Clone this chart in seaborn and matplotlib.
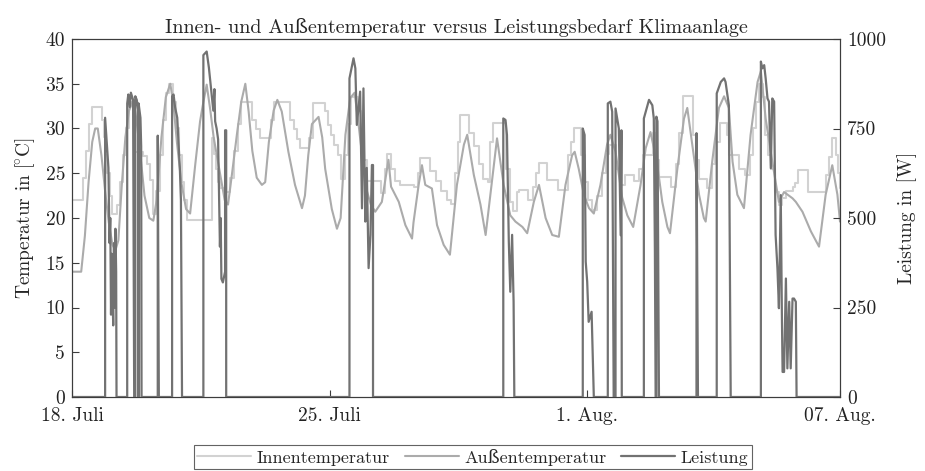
import numpy as np
import pandas as pd
import matplotlib
matplotlib.use('Agg')
import matplotlib.pyplot as plt
import seaborn as sns

# ---------------- data (days since 18. Juli 00:00) ----------------
x_tick_days = [0, 7, 14, 20.87]
x_tick_labels = ['18. Juli', '25. Juli', '1. Aug.', '07. Aug.']
temp_ticks = [0, 5, 10, 15, 20, 25, 30, 35, 40]
power_ticks = [0, 250, 500, 750, 1000]

innen_days = [0.00, 0.30, 0.38, 0.46, 0.54, 0.82, 0.86, 0.91, 0.96, 1.03, 1.10, 1.22, 1.30, 1.38, 1.46, 1.54,
              1.70, 1.94, 2.04, 2.12, 2.20, 2.28, 2.38, 2.48, 2.56, 2.63, 2.74, 2.82, 2.90, 2.98, 3.05, 3.12,
              3.80, 3.85, 3.90, 3.96, 4.03, 4.18, 4.30, 4.40, 4.50, 4.58, 4.90, 5.00, 5.10, 5.40, 5.50, 5.93,
              6.02, 6.11, 6.20, 6.45, 6.55, 6.88, 6.96, 7.04, 7.13, 7.22, 7.32, 7.42, 7.50, 7.58, 7.76, 7.84,
              7.94, 8.03, 8.40, 8.50, 8.56, 8.66, 8.78, 8.92, 9.30, 9.40, 9.47, 9.74, 9.90, 10.04, 10.18, 10.30,
              10.40, 10.48, 10.55, 10.80, 10.93, 11.06, 11.18, 11.30, 11.37, 11.45, 11.80, 11.90, 11.98, 12.08,
              12.14, 12.38, 12.52, 12.62, 12.70, 12.90, 13.20, 13.48, 13.57, 13.64, 13.84, 13.93, 14.02, 14.12,
              14.28, 14.40, 14.52, 14.60, 14.78, 14.90, 15.02, 15.28, 15.42, 15.52, 15.78, 15.88, 15.95, 16.28,
              16.40, 16.50, 16.60, 16.87, 16.96, 17.04, 17.26, 17.38, 17.48, 17.60, 17.80, 17.86, 18.12, 18.30,
              18.42, 18.50, 18.58, 18.66, 18.78, 18.84, 18.92, 18.99, 19.10, 19.20, 19.30, 19.40, 19.58, 19.66,
              19.72, 20.00, 20.50, 20.58, 20.64, 20.76, 20.82, 20.87]
innen_temp = [22.0, 24.5, 27.5, 30.5, 32.4, 31.0, 29.0, 27.0, 25.0, 22.5, 20.5, 21.5, 24.0, 27.0, 30.0, 33.0,
              27.4, 26.9, 26.0, 24.2, 20.5, 23.0, 27.0, 31.0, 34.0, 35.0, 33.0, 30.0, 27.0, 24.0, 22.0, 19.8,
              28.9, 27.2, 25.5, 24.0, 23.3, 22.9, 24.5, 27.5, 30.5, 33.0, 31.0, 29.9, 28.9, 31.0, 33.0, 31.0,
              29.9, 28.8, 27.8, 28.9, 32.8, 31.9, 30.4, 29.3, 28.2, 27.0, 24.4, 27.0, 30.5, 33.5, 32.0, 29.5,
              26.5, 24.1, 22.8, 25.5, 27.2, 25.5, 24.1, 23.7, 23.5, 25.0, 26.7, 25.2, 24.1, 23.0, 22.0, 21.6,
              25.0, 28.5, 31.5, 29.5, 28.0, 26.0, 24.4, 24.0, 28.5, 30.6, 25.5, 21.8, 20.8, 22.9,
              23.1, 22.0, 23.5, 25.0, 26.1, 24.2, 23.1, 27.0, 28.5, 30.0, 27.0, 24.0, 22.0, 20.9,
              22.5, 25.0, 27.2, 28.2, 25.5, 23.7, 24.8, 24.1, 25.5, 27.0, 29.5, 26.5, 24.6, 23.5,
              26.0, 29.5, 33.6, 29.3, 26.5, 24.4, 23.3, 26.0, 28.5, 30.6, 29.3, 27.0, 25.5, 24.8,
              27.0, 30.0, 33.0, 35.0, 33.5, 29.3, 27.0, 25.5, 22.9, 21.4, 22.2, 23.0, 23.5, 23.9,
              25.4, 22.9, 24.8, 26.8, 28.9, 27.0, 25.0, 23.3]

aussen_days = [0.00, 0.25, 0.35, 0.45, 0.55, 0.63, 0.70, 0.80, 0.90, 1.00, 1.10, 1.18, 1.26, 1.35, 1.45, 1.55,
               1.67, 1.75, 1.85, 1.97, 2.10, 2.21, 2.30, 2.43, 2.55, 2.67, 2.75, 2.85, 2.97, 3.10, 3.21, 3.35,
               3.48, 3.55, 3.66, 3.76, 3.85, 4.00, 4.15, 4.24, 4.35, 4.48, 4.60, 4.71, 4.80, 4.90, 5.02, 5.16,
               5.25, 5.35, 5.48, 5.58, 5.70, 5.88, 6.06, 6.25, 6.33, 6.42, 6.52, 6.70, 6.80, 6.88, 7.06, 7.20,
               7.30, 7.43, 7.56, 7.68, 7.80, 7.98, 8.12, 8.24, 8.42, 8.60, 8.67, 8.88, 9.06, 9.24, 9.28, 9.42,
               9.51, 9.60, 9.78, 9.92, 10.10, 10.27, 10.46, 10.65, 10.74, 10.92, 11.10, 11.24, 11.42, 11.55,
               11.73, 11.91, 12.05, 12.24, 12.37, 12.55, 12.69, 12.87, 13.05, 13.23, 13.41, 13.59, 13.66, 13.77,
               13.91, 14.05, 14.18, 14.36, 14.54, 14.63, 14.77, 14.95, 15.09, 15.25, 15.45, 15.59, 15.72, 15.90,
               16.04, 16.18, 16.25, 16.45, 16.63, 16.72, 16.90, 17.04, 17.17, 17.22, 17.40, 17.58, 17.72, 17.85,
               17.95, 18.08, 18.26, 18.44, 18.63, 18.72, 18.85, 19.03, 19.21, 19.35, 19.58, 19.67, 19.85, 20.08,
               20.30, 20.48, 20.66, 20.80, 20.87]
aussen_temp = [14.0, 14.0, 18.0, 24.0, 28.5, 30.0, 30.0, 27.0, 23.0, 19.5, 17.0, 16.4, 17.5, 23.5, 29.0, 32.0,
               33.2, 31.0, 27.4, 22.5, 20.0, 19.7, 22.0, 29.0, 33.5, 35.0, 33.0, 28.5, 24.0, 21.0, 20.5, 26.0,
               30.8, 32.5, 34.9, 32.0, 29.0, 25.5, 22.0, 21.5, 25.0, 29.3, 33.0, 35.0, 31.9, 27.5, 24.5, 23.7,
               24.0, 28.5, 32.0, 33.2, 31.9, 27.4, 23.7, 21.1, 22.5, 27.0, 30.5, 31.3, 29.0, 25.5, 21.0, 18.8,
               20.0, 29.3, 33.4, 34.0, 30.0, 23.5, 21.5, 20.7, 21.8, 26.5, 23.5, 21.8, 19.2, 17.7, 19.5, 23.7,
               25.9, 23.7, 23.3, 19.2, 17.0, 15.9, 23.7, 28.2, 29.3, 24.8, 21.5, 18.1, 24.4, 28.9,
               23.7, 20.3, 19.6, 19.0, 18.3, 21.8, 23.7, 20.0, 18.1, 17.9, 23.7, 27.0, 27.4, 25.5,
               22.6, 21.1, 20.5, 23.7, 28.2, 29.3, 27.4, 22.3, 20.3, 19.0, 23.7, 27.8, 29.6, 26.1,
               21.8, 19.0, 18.3, 25.5, 31.1, 32.3, 26.8, 22.6, 20.0, 19.6, 26.4, 32.3, 33.6, 32.3,
               26.3, 22.6, 21.1, 29.3, 35.2, 36.4, 31.1, 26.3, 21.8, 22.9, 22.2, 21.8, 20.7, 18.5,
               16.8, 22.6, 25.9, 22.6, 19.6]

leistung_days = [0.00, 0.90, 0.90, 0.95, 0.99, 1.02, 1.04, 1.06, 1.08, 1.10, 1.12, 1.14, 1.16, 1.18, 1.20, 1.21,
                 1.50, 1.50, 1.53, 1.57, 1.60, 1.63, 1.66, 1.69, 1.72, 1.72, 1.76, 1.80, 1.80, 1.81, 1.81, 1.86,
                 1.88, 1.89, 2.33, 2.33, 2.36, 2.72, 2.72, 2.76, 2.80, 2.86, 2.90, 2.93, 2.96, 2.99,
                 3.57, 3.57, 3.66, 3.72, 3.84, 3.87, 3.89, 3.93, 3.97, 4.00, 4.02, 4.04, 4.06, 4.10, 4.16, 4.16,
                 4.19, 4.19, 7.54, 7.54, 7.65, 7.70, 7.74, 7.83, 7.88, 7.92, 7.97, 8.01, 8.06, 8.11, 8.15, 8.18,
                 8.18, 11.72, 11.72, 11.78, 11.82, 11.87, 11.91, 11.96, 12.00, 12.02, 13.88, 13.88, 13.93, 13.96,
                 14.00, 14.04, 14.12, 14.16, 14.18, 14.56, 14.56, 14.63, 14.68, 14.72, 14.77, 14.77, 14.86, 14.91,
                 14.93, 14.94, 15.54, 15.54, 15.68, 15.77, 15.81, 15.84, 15.86, 15.88, 15.88, 15.91, 15.95, 16.97,
                 16.97, 17.01, 17.52, 17.52, 17.63, 17.72, 17.76, 17.85, 17.90, 18.72, 18.72, 18.76, 18.81, 18.85,
                 18.90, 18.94, 18.99, 19.03, 19.08, 19.12, 19.17, 19.21, 19.26, 19.29, 19.31, 19.35, 19.40, 19.44,
                 19.49, 19.53, 19.58, 19.62, 19.67, 19.69, 20.87]
leistung_w = [0, 0, 780, 700, 640, 430, 500, 230, 400, 300, 200, 430, 250, 470, 350, 0,
              0, 820, 845, 810, 850, 840, 830, 0, 0, 840, 830, 800, 0, 0, 820, 780,
              700, 0, 0, 730, 0, 0, 840, 845, 810, 780, 700, 640, 550, 0,
              0, 955, 965, 920, 800, 860, 770, 750, 720, 550, 420, 500, 330, 320, 350, 745,
              745, 0, 0, 890, 946, 918, 760, 853, 527, 862, 490, 640, 360, 453, 648, 648,
              0, 0, 778, 774, 732, 434, 294, 453, 266, 0, 0, 750, 732, 378,
              322, 210, 238, 80, 0, 0, 820, 825, 797, 0, 0, 806, 750, 452,
              745, 0, 0, 778, 830, 815, 778, 406, 0, 0, 783, 770, 0, 0,
              737, 0, 0, 848, 880, 890, 880, 815, 0, 0, 937, 918, 927, 890,
              834, 825, 639, 834, 825, 453, 359, 248, 564, 238, 70, 70, 331, 80,
              266, 80, 275, 275, 266, 0, 0]

# ---------------- style ----------------
c_innen = '#d2d2d2'
c_aussen = '#ababab'
c_leistung = '#727272'
frame_c = '#3c3c3c'

sns.set_theme(style='white')
plt.rcParams['font.family'] = ['cmr10', 'DejaVu Serif']
plt.rcParams['mathtext.fontset'] = 'cm'
plt.rcParams['axes.unicode_minus'] = False
plt.rcParams['axes.formatter.use_mathtext'] = True

fig = plt.figure(figsize=(9.25, 4.71), dpi=100)
fig.patch.set_facecolor('white')
ax = fig.add_axes([72 / 925, 1 - 397 / 471, (840 - 72) / 925, (397 - 39) / 471])
ax2 = ax.twinx()

df_in = pd.DataFrame({'t': innen_days, 'v': innen_temp})
df_out = pd.DataFrame({'t': aussen_days, 'v': aussen_temp})
df_p = pd.DataFrame({'t': leistung_days, 'v': leistung_w})

sns.lineplot(data=df_in, x='t', y='v', ax=ax, color=c_innen, lw=1.5, drawstyle='steps-post',
             estimator=None, sort=False, label='Innentemperatur', legend=False)
sns.lineplot(data=df_out, x='t', y='v', ax=ax, color=c_aussen, lw=1.5,
             estimator=None, sort=False, label='Außentemperatur', legend=False)
sns.lineplot(data=df_p, x='t', y='v', ax=ax2, color=c_leistung, lw=1.6,
             estimator=None, sort=False, label='Leistung', legend=False)

ax.set_xlim(0, 20.87)
ax.set_ylim(0, 40)
ax2.set_ylim(0, 1000)
ax.set_xticks(x_tick_days)
ax.set_xticklabels(x_tick_labels)
ax.set_yticks(temp_ticks)
ax.set_yticklabels([str(v) for v in temp_ticks])
ax2.set_yticks(power_ticks)
ax2.set_yticklabels([str(v) for v in power_ticks])

fs = 14
ax.set_xlabel('')
ax.set_ylabel(r'Temperatur in $[\!{}^{\circ}\mathrm{C}]$', fontsize=fs, labelpad=6)
ax2.set_ylabel('Leistung in [W]', fontsize=fs, labelpad=8)
ax.set_title('Innen- und Außentemperatur versus Leistungsbedarf Klimaanlage', fontsize=14.5, pad=4)

ax.tick_params(axis='both', direction='in', length=5, width=0.8, colors=frame_c, labelsize=fs,
               labelcolor='#222222', left=True, bottom=True, pad=5)
ax.tick_params(axis='x', pad=7)
ax2.tick_params(axis='y', direction='in', length=5, width=0.8, colors=frame_c, labelsize=fs,
                labelcolor='#222222', right=True, pad=5)
for a in (ax, ax2):
    for s in a.spines.values():
        s.set_color(frame_c)
        s.set_linewidth(0.8)
ax.grid(False)
ax2.grid(False)

h1, l1 = ax.get_legend_handles_labels()
h2, l2 = ax2.get_legend_handles_labels()
leg = fig.legend(h1 + h2, l1 + l2, loc='lower center', bbox_to_anchor=(0.511, 0.0), ncol=3,
                 frameon=True, fancybox=False, edgecolor=frame_c, fontsize=13, handlelength=3.0,
                 columnspacing=0.8, handletextpad=0.3, borderpad=0.2, borderaxespad=0.1)
leg.get_frame().set_linewidth(0.8)

fig.savefig('out.png', dpi=100, facecolor='white')
